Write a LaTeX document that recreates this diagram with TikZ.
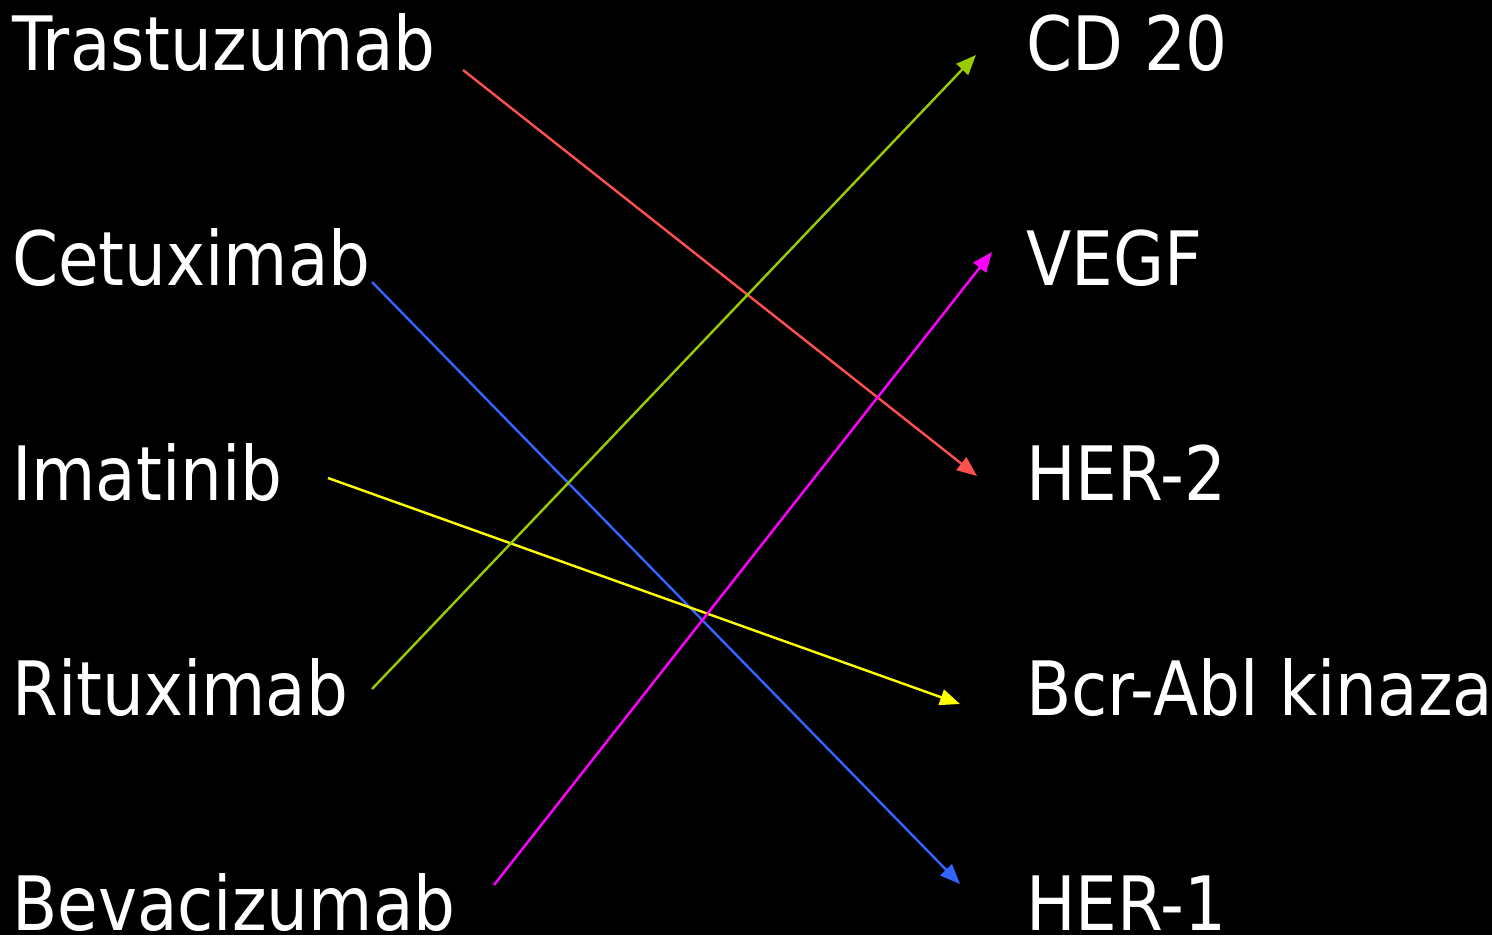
\documentclass[tikz,border=0pt]{standalone}
\usepackage{fontspec}
\setmainfont{DejaVu Sans}[FakeStretch=0.88]
\usetikzlibrary{arrows.meta}
\definecolor{cred}{RGB}{255,80,80}
\definecolor{cblue}{RGB}{50,100,255}
\definecolor{cyel}{RGB}{255,255,0}
\definecolor{cgreen}{RGB}{153,204,0}
\definecolor{cmag}{RGB}{255,0,255}
\begin{document}
\begin{tikzpicture}[x=1pt,y=-1pt,
  lbl/.style={anchor=base west,inner sep=0pt,text=white,font=\fontsize{75}{80}\selectfont},
  conn/.style={line width=2.4pt,-{Triangle[length=20pt,width=16pt]}}]
\fill[black] (0,0) rectangle (1492,935);
\useasboundingbox (0,0) rectangle (1492,935);
\node[lbl] (tra) at (12,70) {Trastuzumab};
\node[lbl] (cet) at (12,285) {Cetuximab};
\node[lbl] (ima) at (12,500) {Imatinib};
\node[lbl] (rit) at (12,715) {Rituximab};
\node[lbl] (bev) at (12,930) {Bevacizumab};
\node[lbl] (cd) at (1026,70) {CD 20};
\node[lbl] (veg) at (1026,285) {VEGF};
\node[lbl] (h2) at (1026,500) {HER-2};
\node[lbl] (bcr) at (1026,715) {Bcr-Abl kinaza};
\node[lbl] (h1) at (1026,930) {HER-1};
\coordinate (s1) at (463,70);  \coordinate (e1) at (977,476);
\coordinate (s2) at (372,282); \coordinate (e2) at (960,884);
\coordinate (s3) at (328,478); \coordinate (e3) at (960,704);
\coordinate (s4) at (372,689); \coordinate (e4) at (976,55);
\coordinate (s5) at (494,885); \coordinate (e5) at (992,252);
\draw[conn,cred] (s1) -- (e1);
\draw[conn,cblue] (s2) -- (e2);
\draw[conn,cyel] (s3) -- (e3);
\draw[conn,cgreen] (s4) -- (e4);
\draw[conn,cmag] (s5) -- (e5);
\end{tikzpicture}
\end{document}
